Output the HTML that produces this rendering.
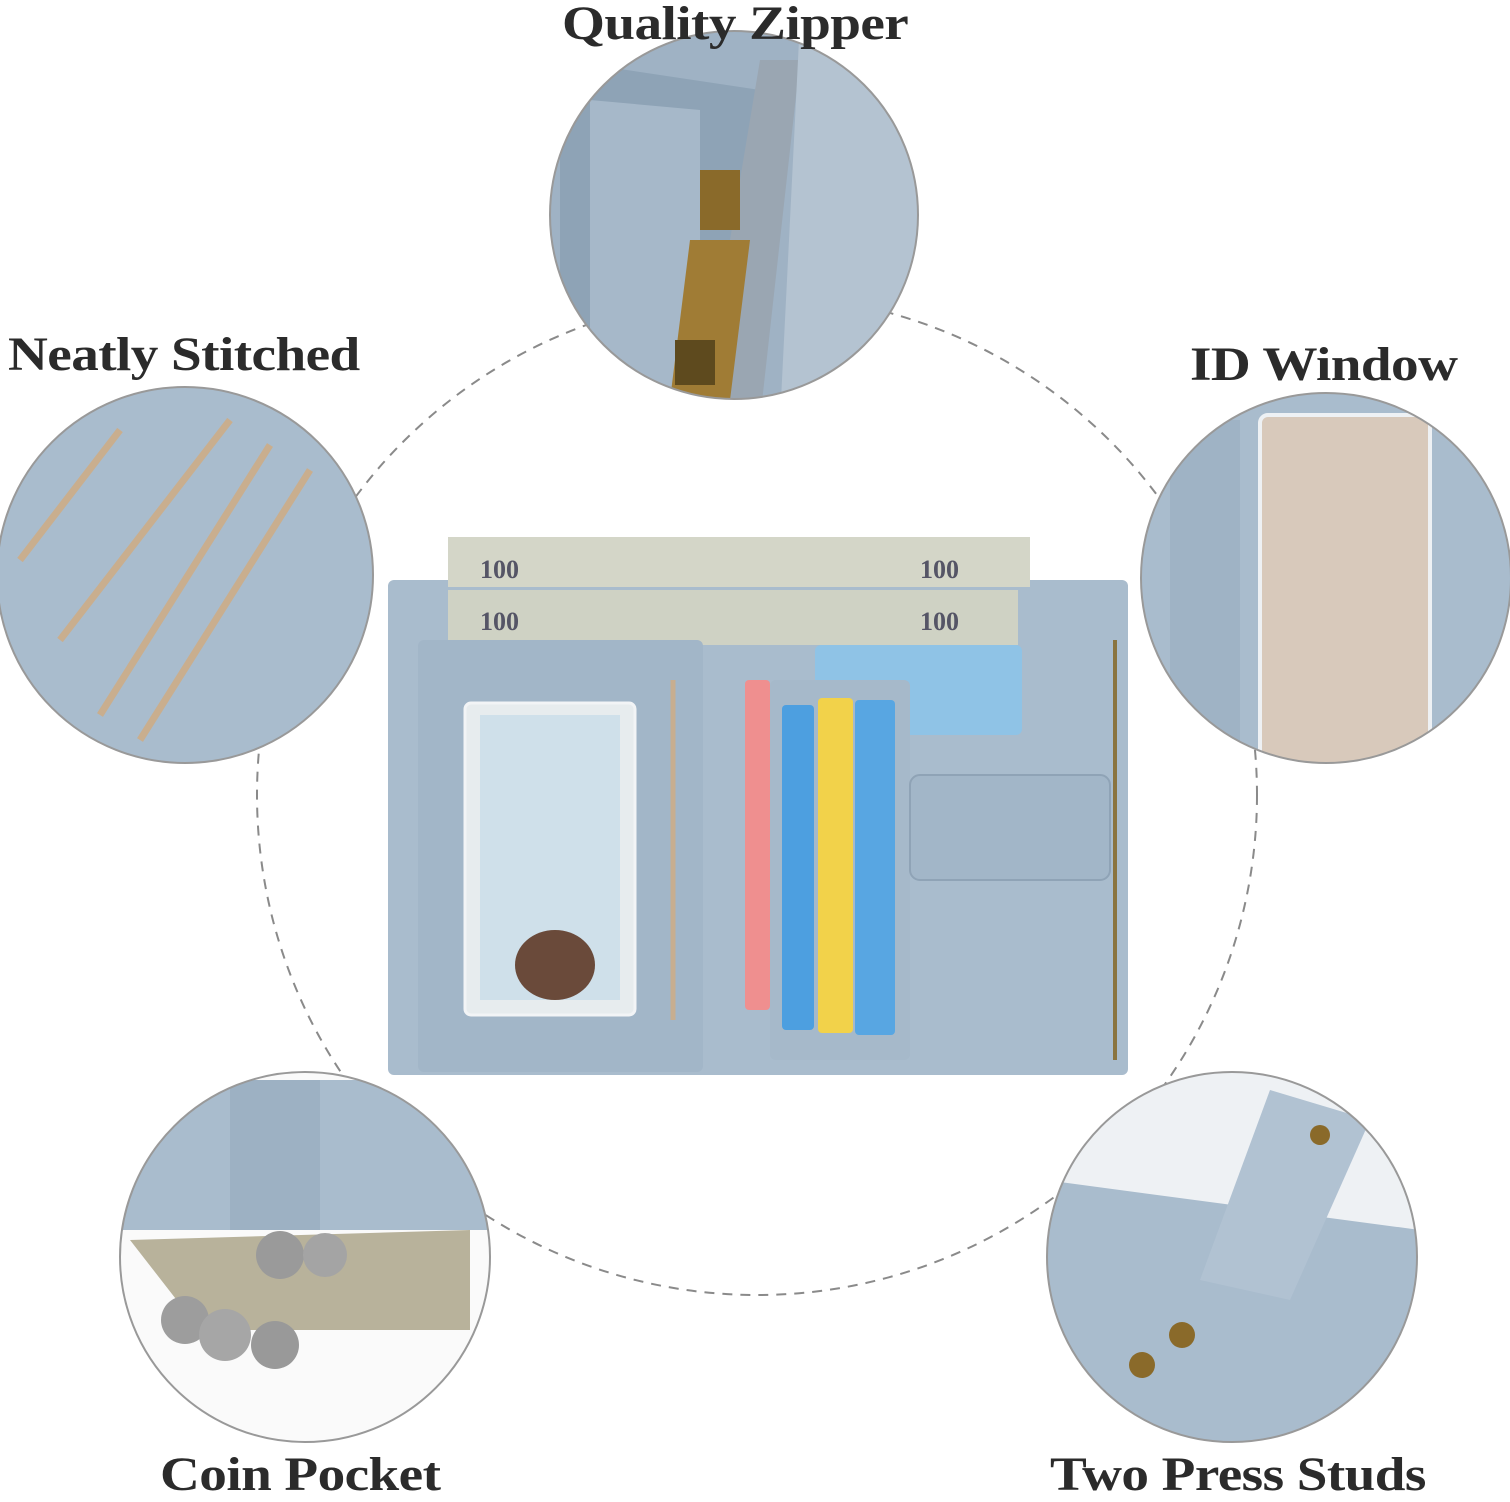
<!DOCTYPE html>
<html><head><meta charset="utf-8"><style>
html,body{margin:0;padding:0;background:#fff;}
body{width:1510px;height:1500px;position:relative;overflow:hidden;font-family:"Liberation Serif",serif;}
.t{position:absolute;font-weight:bold;font-size:48px;color:#2b2b2b;white-space:nowrap;letter-spacing:-0.5px;transform:scaleX(1.15);transform-origin:0 0}
svg{position:absolute;left:0;top:0}
</style></head><body>
<svg width="1510" height="1500" viewBox="0 0 1510 1500">
<defs>
<clipPath id="c1"><circle cx="734" cy="215" r="184"/></clipPath>
<clipPath id="c2"><circle cx="185" cy="575" r="188"/></clipPath>
<clipPath id="c3"><circle cx="1326" cy="578" r="185"/></clipPath>
<clipPath id="c4"><circle cx="305" cy="1257" r="185"/></clipPath>
<clipPath id="c5"><circle cx="1232" cy="1257" r="185"/></clipPath>
</defs>
<circle cx="757" cy="795" r="500" fill="none" stroke="#8a8a8a" stroke-width="2" stroke-dasharray="10 8"/>
<g clip-path="url(#c1)">
<rect x="540" y="20" width="400" height="400" fill="#eef1f4"/>
<path d="M540 20 L800 20 L820 420 L540 420Z" fill="#9fb2c4"/>
<path d="M560 60 L760 90 L760 420 L560 420Z" fill="#8ea3b6"/>
<path d="M590 100 L700 110 L700 420 L590 420Z" fill="#a6b8c9"/>
<path d="M760 60 L800 60 L760 420 L700 420Z" fill="#9aa6b2"/>
<path d="M800 20 L940 20 L940 420 L780 420Z" fill="#b4c3d1"/>
<rect x="700" y="170" width="40" height="60" fill="#8a6a2a"/>
<path d="M690 240 L750 240 L730 400 L670 400Z" fill="#a07c35"/>
<rect x="675" y="340" width="40" height="45" fill="#5e4a1e"/>
</g>
<circle cx="734" cy="215" r="184" fill="none" stroke="#999" stroke-width="2"/>
<g clip-path="url(#c2)">
<rect x="-5" y="385" width="380" height="380" fill="#a9bccd"/>
<g stroke="#c9ae8e" stroke-width="7">
<line x1="20" y1="560" x2="120" y2="430"/>
<line x1="60" y1="640" x2="230" y2="420"/>
<line x1="100" y1="715" x2="270" y2="445"/>
<line x1="140" y1="740" x2="310" y2="470"/>
</g>
</g>
<circle cx="185" cy="575" r="188" fill="none" stroke="#999" stroke-width="2"/>
<g clip-path="url(#c3)">
<rect x="1140" y="390" width="375" height="375" fill="#a9bccd"/>
<rect x="1260" y="415" width="170" height="350" rx="8" fill="#d8c9bb" stroke="#eef1f4" stroke-width="4"/>
<rect x="1170" y="420" width="70" height="350" fill="#9fb3c5"/>
</g>
<circle cx="1326" cy="578" r="185" fill="none" stroke="#999" stroke-width="2"/>
<g clip-path="url(#c4)">
<rect x="118" y="1070" width="375" height="375" fill="#fafafa"/>
<rect x="118" y="1080" width="375" height="150" fill="#a9bccd"/>
<rect x="230" y="1080" width="90" height="150" fill="#9db1c3"/>
<path d="M130 1240 L470 1230 L470 1330 L200 1330Z" fill="#b8b29b"/>
<circle cx="280" cy="1255" r="24" fill="#9a9a9a"/><circle cx="325" cy="1255" r="22" fill="#a4a4a4"/>
<circle cx="185" cy="1320" r="24" fill="#9d9d9d"/><circle cx="225" cy="1335" r="26" fill="#a6a6a6"/><circle cx="275" cy="1345" r="24" fill="#999"/>
</g>
<circle cx="305" cy="1257" r="185" fill="none" stroke="#999" stroke-width="2"/>
<g clip-path="url(#c5)">
<rect x="1045" y="1070" width="375" height="375" fill="#eef1f4"/>
<path d="M1045 1180 L1420 1230 L1420 1445 L1045 1445Z" fill="#a9bccd"/>
<path d="M1270 1090 L1370 1120 L1290 1300 L1200 1280Z" fill="#b1c2d2"/>
<circle cx="1320" cy="1135" r="10" fill="#8a6a2a"/>
<circle cx="1182" cy="1335" r="13" fill="#8a6a2a"/><circle cx="1142" cy="1365" r="13" fill="#8a6a2a"/>
</g>
<circle cx="1232" cy="1257" r="185" fill="none" stroke="#999" stroke-width="2"/>
<rect x="388" y="580" width="740" height="495" rx="6" fill="#a9bccd"/>
<rect x="448" y="537" width="582" height="50" fill="#d4d6c8"/>
<rect x="448" y="590" width="570" height="55" fill="#cfd2c4"/>
<text x="480" y="578" font-family="Liberation Serif" font-weight="bold" font-size="26" fill="#556">100</text>
<text x="920" y="578" font-family="Liberation Serif" font-weight="bold" font-size="26" fill="#556">100</text>
<text x="480" y="630" font-family="Liberation Serif" font-weight="bold" font-size="26" fill="#556">100</text>
<text x="920" y="630" font-family="Liberation Serif" font-weight="bold" font-size="26" fill="#556">100</text>
<rect x="418" y="640" width="285" height="432" rx="6" fill="#a2b6c8"/>
<rect x="465" y="703" width="170" height="312" rx="6" fill="#e7ecee" stroke="#f2f4f6" stroke-width="3"/>
<rect x="480" y="715" width="140" height="285" fill="#cfe0ea"/>
<ellipse cx="555" cy="965" rx="40" ry="35" fill="#6a4a3a"/>
<line x1="673" y1="680" x2="673" y2="1020" stroke="#c7ae90" stroke-width="5"/>
<rect x="815" y="645" width="207" height="90" rx="6" fill="#8fc3e6"/>
<rect x="745" y="680" width="25" height="330" rx="4" fill="#ef8f8f"/>
<rect x="770" y="680" width="140" height="380" rx="6" fill="#a6b9ca"/>
<rect x="782" y="705" width="32" height="325" rx="4" fill="#4d9fe0"/>
<rect x="818" y="698" width="35" height="335" rx="4" fill="#f2d24a"/>
<rect x="855" y="700" width="40" height="335" rx="4" fill="#58a6e2"/>
<rect x="910" y="775" width="200" height="105" rx="10" fill="#a2b6c8" stroke="#8fa3b6" stroke-width="2"/>
<line x1="1115" y1="640" x2="1115" y2="1060" stroke="#8a7440" stroke-width="4"/>
</svg>
<div class="t" style="left:562px;top:-4px">Quality Zipper</div>
<div class="t" style="left:8px;top:327px">Neatly Stitched</div>
<div class="t" style="left:1190px;top:337px">ID Window</div>
<div class="t" style="left:160px;top:1447px">Coin Pocket</div>
<div class="t" style="left:1050px;top:1447px">Two Press Studs</div>
</body></html>
